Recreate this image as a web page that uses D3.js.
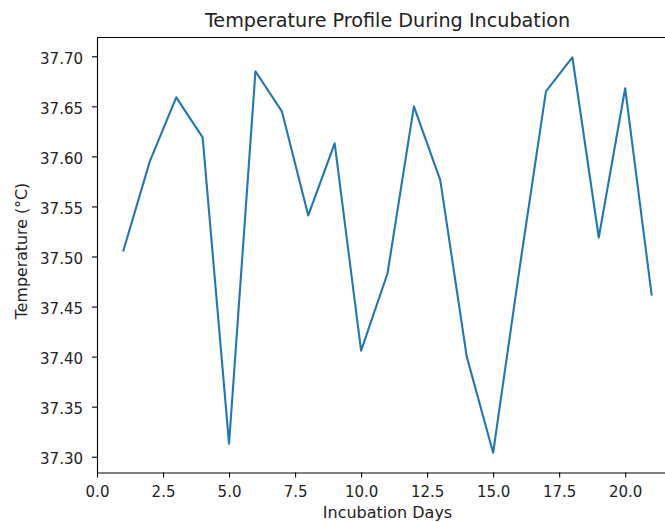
<!DOCTYPE html>
<html>
<head>
<meta charset="utf-8">
<script src="https://cdn.jsdelivr.net/npm/d3@7"></script>
<style>
  body { margin: 0; background: #fff; }
  svg { font-family: "DejaVu Sans", sans-serif; }
</style>
</head>
<body>
<svg id="chart" width="665" height="522"></svg>
<script>
// incubation day vs temperature
var days = [1, 2, 3, 4, 5, 6, 7, 8, 9, 10, 11, 12, 13, 14, 15, 16, 17, 18, 19, 20, 21];
var temps = [37.506, 37.595, 37.659, 37.619, 37.313, 37.685, 37.645, 37.541, 37.613, 37.406,
             37.483, 37.650, 37.576, 37.400, 37.304, 37.488, 37.665, 37.699, 37.519, 37.668, 37.462];
var xTicks = [0, 2.5, 5, 7.5, 10, 12.5, 15, 17.5, 20];
var yTicks = [37.30, 37.35, 37.40, 37.45, 37.50, 37.55, 37.60, 37.65, 37.70];

var svg = d3.select("#chart"),
    margin = {top: 37.5, left: 97, bottom: 472.5, right: 678};

var data = days.map((d, i) => ({day: d, temp: temps[i]}));

// matplotlib style 5% margins
var xmin = d3.min(days), xmax = d3.max(days), xpad = (xmax - xmin) * 0.05;
var ymin = d3.min(temps), ymax = d3.max(temps), ypad = (ymax - ymin) * 0.05;

var x = d3.scaleLinear()
    .domain([xmin - xpad, xmax + xpad])
    .range([margin.left, margin.right]);

var y = d3.scaleLinear()
    .domain([ymin - ypad, ymax + ypad])
    .range([margin.bottom, margin.top]);

var line = d3.line()
    .x(d => x(d.day))
    .y(d => y(d.temp));

svg.append("path")
    .datum(data)
    .attr("fill", "none")
    .attr("stroke", "#1f77b4")
    .attr("stroke-width", 2.1)
    .attr("stroke-linejoin", "round")
    .attr("stroke-linecap", "square")
    .attr("d", line);

var xAxis = g => g
    .attr("transform", "translate(0," + margin.bottom + ")")
    .call(d3.axisBottom(x).tickValues(xTicks).tickFormat(d3.format(".1f")).tickSize(5).tickPadding(9).tickSizeOuter(0))
    .call(g => g.select(".domain").attr("stroke", "#000").attr("stroke-width", 1.1))
    .call(g => g.selectAll("line").attr("stroke-width", 1.1))
    .call(g => g.selectAll("text").attr("font-size", 15).attr("fill", "#222").attr("font-family", "DejaVu Sans"));

var yAxis = g => g
    .attr("transform", "translate(" + margin.left + ",0)")
    .call(d3.axisLeft(y).tickValues(yTicks).tickFormat(d3.format(".2f")).tickSize(5).tickPadding(9).tickSizeOuter(0))
    .call(g => g.select(".domain").attr("stroke", "#000").attr("stroke-width", 1.1))
    .call(g => g.selectAll("line").attr("stroke-width", 1.1))
    .call(g => g.selectAll("text").attr("font-size", 15).attr("dy", "0.45em").attr("fill", "#222").attr("font-family", "DejaVu Sans"));

svg.append("g").attr("class", "x-axis").call(xAxis);
svg.append("g").attr("class", "y-axis").call(yAxis);

// top spine (right spine is outside the window)
svg.append("line")
    .attr("x1", margin.left).attr("x2", margin.right)
    .attr("y1", margin.top).attr("y2", margin.top)
    .attr("stroke", "#000").attr("stroke-width", 1.1);
svg.append("line")
    .attr("x1", margin.right).attr("x2", margin.right)
    .attr("y1", margin.top).attr("y2", margin.bottom)
    .attr("stroke", "#000").attr("stroke-width", 1.1);

svg.append("text")
    .attr("x", (margin.left + margin.right) / 2)
    .attr("y", 26.5)
    .attr("text-anchor", "middle")
    .attr("font-size", 19.2)
    .attr("fill", "#222")
    .text("Temperature Profile During Incubation");

svg.append("text")
    .attr("x", (margin.left + margin.right) / 2)
    .attr("y", 517.5)
    .attr("text-anchor", "middle")
    .attr("font-size", 16)
    .attr("fill", "#222")
    .text("Incubation Days");

svg.append("text")
    .attr("transform", "translate(26.5,251) rotate(-90)")
    .attr("text-anchor", "middle")
    .attr("font-size", 15.8)
    .attr("fill", "#222")
    .text("Temperature (°C)");
</script>
</body>
</html>
